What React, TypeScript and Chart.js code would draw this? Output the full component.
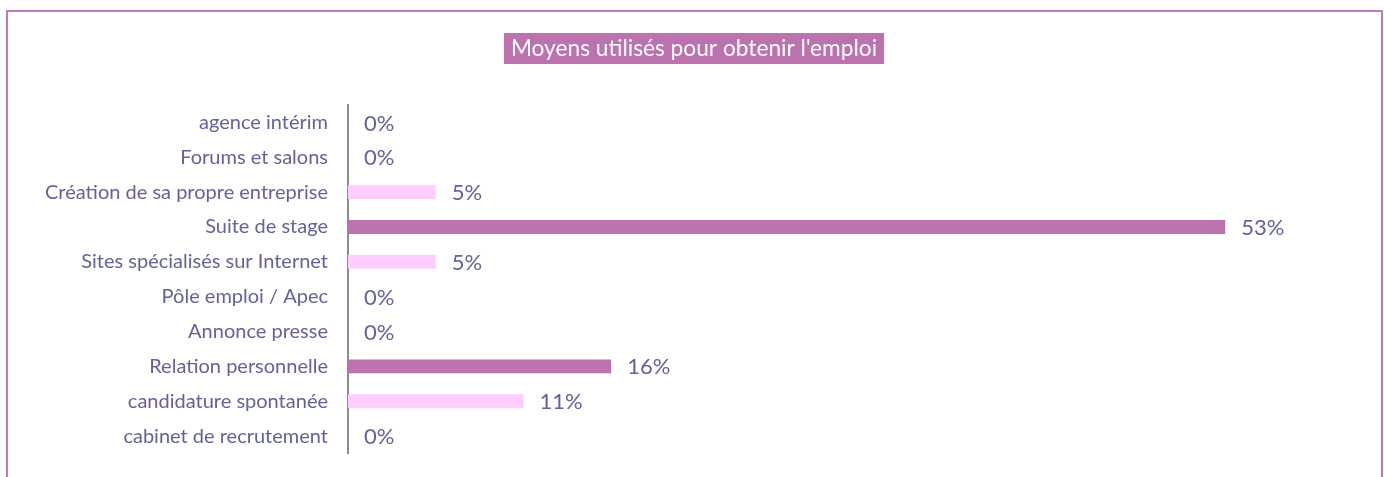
import React, { useEffect, useRef } from "react";
import { Chart, registerables } from "chart.js";

Chart.register(...registerables);

const title = "Moyens utilisés pour obtenir l'emploi";
const categories = [
  "agence intérim",
  "Forums et salons",
  "Création de sa propre entreprise",
  "Suite de stage",
  "Sites spécialisés sur Internet",
  "Pôle emploi / Apec",
  "Annonce presse",
  "Relation personnelle",
  "candidature spontanée",
  "cabinet de recrutement",
];
const values = [0, 0, 5.26, 52.63, 5.26, 0, 0, 15.79, 10.53, 0];
const valueLabels = ["0%", "0%", "5%", "53%", "5%", "0%", "0%", "16%", "11%", "0%"];

const PURPLE = "#BD72B0";
const PINK = "#FFCCFF";
const TEXT = "#62629E";
const FONT = "Lato, 'Open Sans', sans-serif";

const barColors = values.map((_, i) => (i % 2 === 1 ? PURPLE : PINK));

const decorPlugin = {
  id: "decor",
  afterDraw(chart: any) {
    const ctx = chart.ctx;
    ctx.save();
    // title box
    ctx.font = `22.7px ${FONT}`;
    const tw = ctx.measureText(title).width;
    const cx = 694;
    const bw = tw + 14;
    ctx.fillStyle = PURPLE;
    ctx.fillRect(cx - bw / 2, 33, bw, 31);
    ctx.fillStyle = "#FFFFFF";
    ctx.textAlign = "center";
    ctx.textBaseline = "middle";
    ctx.fillText(title, cx, 49);
    // value labels
    const meta = chart.getDatasetMeta(0);
    ctx.font = `22px ${FONT}`;
    ctx.fillStyle = TEXT;
    ctx.textAlign = "left";
    meta.data.forEach((bar: any, i: number) => {
      ctx.fillText(valueLabels[i], bar.x + 16, bar.y + 1);
    });
    ctx.restore();
  },
};

export default function App() {
  const ref = useRef<HTMLCanvasElement>(null);
  useEffect(() => {
    document.body.style.margin = "0";
    const chart = new Chart(ref.current!, {
      type: "bar",
      data: {
        labels: categories,
        datasets: [
          {
            data: values,
            backgroundColor: barColors,
            borderWidth: 0,
            barPercentage: 0.4,
            categoryPercentage: 1,
          },
        ],
      },
      options: {
        indexAxis: "y",
        animation: false,
        responsive: false,
        maintainAspectRatio: false,
        layout: { padding: { top: 105, bottom: 23.5, left: 0, right: 36 } },
        plugins: { legend: { display: false }, title: { display: false }, tooltip: { enabled: false } },
        scales: {
          x: { display: false, min: 0, max: 60 },
          y: {
            afterFit: (s: any) => {
              s.width = 348;
              s.paddingTop = 0;
              s.paddingBottom = 0;
            },
            grid: { display: false, drawTicks: false },
            border: { display: true, color: "#8C8C8C", width: 2 },
            ticks: { color: TEXT, font: { family: FONT, size: 20 }, padding: 20 },
          },
        },
      },
      plugins: [decorPlugin],
    });
    return () => chart.destroy();
  }, []);
  return (
    <div style={{ position: "fixed", left: 0, top: 0, width: 1384, height: 477, background: "#fff" }}>
      <div
        style={{
          position: "absolute",
          left: 6,
          top: 10,
          width: 1373,
          height: 480,
          borderLeft: "2px solid #C07AB6",
          borderRight: "2px solid #C07AB6",
          borderTop: "2px solid #C07AB6",
        }}
      />
      <canvas ref={ref} width={1384} height={477} style={{ position: "absolute", left: 0, top: 0 }} />
    </div>
  );
}
